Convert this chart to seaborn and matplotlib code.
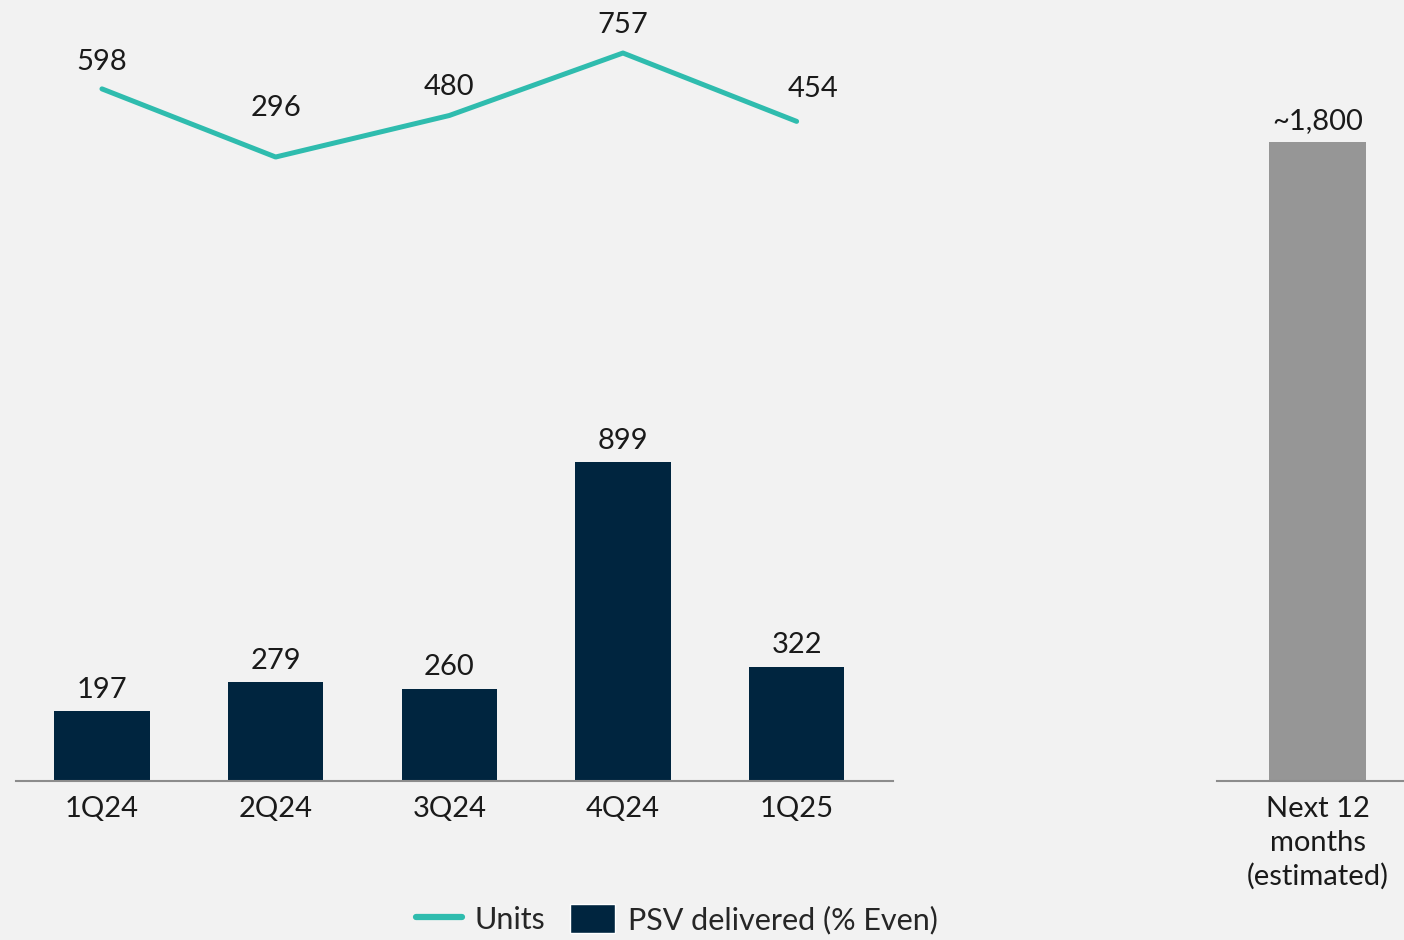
import pandas as pd
import matplotlib.pyplot as plt
import seaborn as sns
from matplotlib.lines import Line2D
from matplotlib.patches import Patch

quarters = ['1Q24', '2Q24', '3Q24', '4Q24', '1Q25']
psv = [197, 279, 260, 899, 322]
units = [598, 296, 480, 757, 454]
est_label = ['Next 12\nmonths\n(estimated)']
est_value = [1800]

navy = '#00253f'
teal = '#2fbcae'
grey = '#969696'
bg = '#f2f2f2'
txt = '#1a1a1a'
# label offsets (points) for the units line labels
unit_offsets = [(0, 10), (0, 26), (0, 11), (0, 11), (12, 14)]

sns.set_style('white')
plt.rcParams['font.family'] = ['Lato', 'DejaVu Sans']
plt.rcParams['font.size'] = 21

df = pd.DataFrame({'Quarter': quarters, 'PSV': psv, 'Units': units})
dfEst = pd.DataFrame({'Label': est_label, 'Value': est_value})

fig = plt.figure(figsize=(14.04, 9.4), dpi=100)
fig.patch.set_facecolor(bg)

bottom = (940 - 781) / 940
height = 781 / 940
ax = fig.add_axes([16 / 1404, bottom, (893 - 16) / 1404, height])
ax2 = fig.add_axes([1217 / 1404, bottom, (1404 - 1217) / 1404, height])

# bars
sns.barplot(data=df, x='Quarter', y='PSV', color=navy, width=0.55,
            saturation=1, linewidth=0, ax=ax)
ax.set_xlim(-0.495, 4.555)
ax.set_ylim(0, 2201)
for i, v in enumerate(psv):
    ax.annotate(f'{v}', (i, v), xytext=(0, 6), textcoords='offset points',
                ha='center', va='bottom', fontsize=21, color=txt)

# units line on twin axis
axl = ax.twinx()
sns.lineplot(x=list(range(len(quarters))), y=units, color=teal, lw=3.6,
             ax=axl, legend=False)
axl.set_ylim(-2470, 992)
for i, v in enumerate(units):
    axl.annotate(f'{v}', (i, v), xytext=unit_offsets[i], textcoords='offset points',
                 ha='center', va='bottom', fontsize=21, color=txt)
axl.axis('off')

# estimate bar
sns.barplot(data=dfEst, x='Label', y='Value', color=grey, width=0.55,
            saturation=1, linewidth=0, ax=ax2)
ax2.set_xlim(-0.574, 0.494)
ax2.set_ylim(0, 2201)
ax2.annotate('~1,800', (0, est_value[0]), xytext=(0, 6), textcoords='offset points',
             ha='center', va='bottom', fontsize=21, color=txt)

for a in (ax, ax2):
    a.set_facecolor(bg)
    a.set_xlabel('')
    a.set_ylabel('')
    a.set_yticks([])
    for s in ['top', 'left', 'right']:
        a.spines[s].set_visible(False)
    a.spines['bottom'].set_color('#8c8c8c')
    a.spines['bottom'].set_linewidth(1.5)
    a.tick_params(axis='x', length=0, pad=11, labelsize=21, colors=txt)
for t in ax2.get_xticklabels():
    t.set_linespacing(1.35)

handles = [Line2D([0], [0], color=teal, lw=4.5),
           Patch(facecolor=navy)]
fig.legend(handles, ['Units', 'PSV delivered (% Even)'], loc='center',
           bbox_to_anchor=(677 / 1404, 1 - 919 / 940), ncol=2, frameon=False,
           handlelength=1.5, handleheight=1.1, handletextpad=0.4,
           columnspacing=0.8, fontsize=22)

plt.savefig('out.png', dpi=100, facecolor=bg)
